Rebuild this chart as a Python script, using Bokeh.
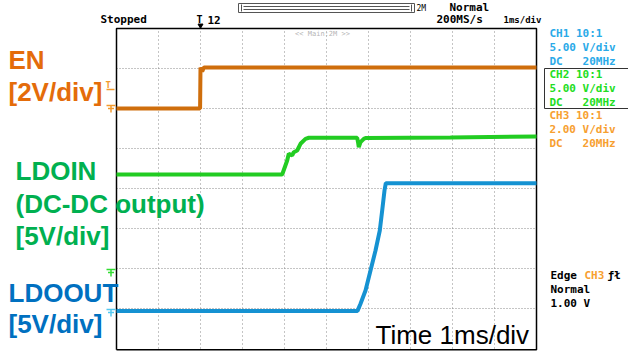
from bokeh.plotting import figure
from bokeh.models import Range1d, Label
from bokeh.embed import file_html
from bokeh.resources import INLINE

# ---------------- data (time in ms, voltage in V) ----------------
en_t = [0.0, 1.99, 2.0, 2.04, 2.08, 10.0]
en_v = [0.0, 0.0, 2.05, 1.85, 2.05, 2.05]

ldoin_t = [0.0, 3.945, 4.064, 4.102, 4.183, 4.221, 4.302, 4.381, 4.50, 4.579,
           5.731, 5.75, 5.769, 5.81, 5.888, 5.93, 7.95, 10.0]
ldoin_v = [12.25, 12.25, 14.0, 14.84, 14.63, 15.04, 15.25, 16.09, 16.71, 16.84,
           16.84, 16.31, 15.66, 16.29, 16.71, 16.81, 16.87, 17.0]

ldoout_t = [0.0, 5.738, 5.81, 5.929, 6.048, 6.167, 6.269, 6.326, 6.381, 6.412, 10.0]
ldoout_v = [0.2, 0.2, 1.09, 2.75, 5.25, 7.75, 10.25, 12.75, 15.25, 16.16, 16.16]

# channel settings: (volts per division, ground offset in divisions)
ch3_scale, ch3_offset = 2.0, 2.0     # EN
ch2_scale, ch2_offset = 5.0, -2.1    # LDOIN
ch1_scale, ch1_offset = 5.0, -3.1    # LDOOUT

time_ticks = list(range(0, 11))
div_ticks = list(range(-4, 5))

# ---------------- geometry helpers ----------------
W, H = 628, 354
X0, PXMS = 116, 42.0
Y0, PXDIV = 188, 40.0

def dx(px):
    return (px - X0) / PXMS

def dy(py):
    return (Y0 - py) / PXDIV

def to_div(vals, scale, offset):
    return [offset + v / scale for v in vals]

p = figure(width=W, height=H, output_backend="svg", toolbar_location=None,
           x_range=Range1d(dx(0), dx(W)), y_range=Range1d(dy(H), dy(0)),
           x_axis_location=None, y_axis_location=None, min_border=0)
p.grid.visible = False
p.outline_line_color = None
p.background_fill_color = "white"
p.border_fill_color = "white"

# ---------------- graticule ----------------
gx = [t for t in time_ticks[1:-1]]
p.segment(x0=gx, y0=[-4] * len(gx), x1=gx, y1=[4] * len(gx),
          line_color="#8a8a8a", line_width=1, line_dash="1 3")
gy = [d for d in div_ticks[1:-1]]
p.segment(x0=[0] * len(gy), y0=gy, x1=[10] * len(gy), y1=gy,
          line_color="#8a8a8a", line_width=1, line_dash="1 2")
# frame
p.line([0, 0, 10, 10, 0], [-4.03, 4, 4, -4.03, -4.03], line_color="black", line_width=1.5)

# ---------------- traces ----------------
p.line(en_t, to_div(en_v, ch3_scale, ch3_offset), line_color="#CF6E0C", line_width=4)
p.line(ldoin_t, to_div(ldoin_v, ch2_scale, ch2_offset), line_color="#22CC22", line_width=4)
p.line(ldoout_t, to_div(ldoout_v, ch1_scale, ch1_offset), line_color="#1592D2", line_width=4)

# ---------------- ground / trigger markers ----------------
def ground_marker(py, color):
    xs = [[dx(106), dx(115)], [dx(107.5), dx(113.5)], [dx(110.5), dx(110.5)]]
    ys = [[dy(py - 3), dy(py - 3)], [dy(py), dy(py)], [dy(py - 3), dy(py + 4)]]
    p.multi_line(xs, ys, line_color=color, line_width=1.5)

ground_marker(108, "#F39A2E")
ground_marker(272, "#33DD33")
ground_marker(312, "#55C8F0")
p.add_layout(Label(x=dx(105), y=dy(84), text="T", text_color="#F39A2E",
                   text_font="DejaVu Sans Mono", text_font_size="9px",
                   text_font_style="bold", text_baseline="middle"))
p.line([dx(106), dx(114)], [dy(89), dy(89)], line_color="#F39A2E", line_width=1.5)

# ---------------- header ----------------
MONO = "DejaVu Sans Mono"
NB = "\u00a0"

def mono(px, py, text, color="black", size="11px", style="bold", align="left"):
    p.add_layout(Label(x=dx(px), y=dy(py), text=text, text_color=color,
                       text_font=MONO, text_font_size=size, text_font_style=style,
                       text_baseline="middle", text_align=align))

mono(100, 19, "Stopped")
mono(196, 19, "T", size="10px")
p.scatter([dx(200)], [dy(25)], marker="inverted_triangle", size=5, color="black")
mono(207, 19, "12")
mono(449, 7, "Normal")
mono(436, 19, "200MS/s")
mono(503, 19, "1ms/div", size="9px")

# memory bar
p.quad(left=[dx(238)], right=[dx(414)], top=[dy(3)], bottom=[dy(12)],
       fill_color="white", line_color="#555555", line_width=1)
p.multi_line([[dx(243), dx(409)], [dx(243), dx(409)], [dx(241), dx(241)], [dx(411), dx(411)]],
             [[dy(6), dy(6)], [dy(9), dy(9)], [dy(4), dy(11)], [dy(4), dy(11)]],
             line_color="#555555", line_width=1)
mono(416, 8, "2M", size="8px", style="normal")
mono(322, 33, "<< Main:2M >>", color="#b5b5b5", size="7px", style="normal", align="center")

# ---------------- right panel ----------------
ch1c, ch2c, ch3c = "#2AAAE8", "#22DD22", "#F7A030"
dc_line = "DC" + NB * 3 + "20MHz"
for i, s in enumerate(["CH1 10:1", "5.00 V/div", dc_line]):
    mono(549, 33 + 14 * i, s, color=ch1c)
p.quad(left=[dx(544)], right=[dx(640)], top=[dy(68)], bottom=[dy(108)],
       fill_color=None, line_color="#333333", line_width=1)
for i, s in enumerate(["CH2 10:1", "5.00 V/div", dc_line]):
    mono(549, 74 + 14 * i, s, color=ch2c)
for i, s in enumerate(["CH3 10:1", "2.00 V/div", dc_line]):
    mono(549, 115 + 14 * i, s, color=ch3c)

mono(550, 275, "Edge")
mono(584, 275, "CH3", color=ch3c)
mono(607, 275, "ƒł")
mono(550, 289, "Normal")
mono(550, 303, "1.00 V")

# ---------------- annotations ----------------
SANS = "Liberation Sans"

def big(px, py, text, color, style="bold", size="26px"):
    p.add_layout(Label(x=dx(px), y=dy(py), text=text, text_color=color,
                       text_font=SANS, text_font_size=size, text_font_style=style,
                       text_baseline="middle"))

en_c, in_c, out_c = "#E46C0A", "#00B050", "#0070C0"
big(8, 59, "EN", en_c)
big(8, 91, "[2V/div]", en_c)
big(15, 170, "LDOIN", in_c)
big(15, 203, "(DC-DC output)", in_c)
big(15, 235, "[5V/div]", in_c)
big(8, 292, "LDOOUT", out_c)
big(8, 323, "[5V/div]", out_c)
big(375, 334, "Time 1ms/div", "black", style="normal")

open("out.html", "w").write(file_html(p, INLINE))
